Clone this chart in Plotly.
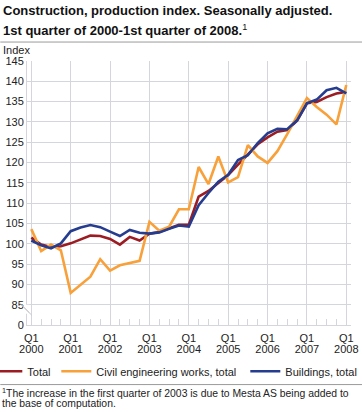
import plotly.graph_objects as go

quarters = list(range(33))
tick_vals = [0, 4, 8, 12, 16, 20, 24, 28, 32]
tick_q = ["Q1"] * 9
tick_years = ["2000", "2001", "2002", "2003", "2004", "2005", "2006", "2007", "2008"]
y_tick_vals = [80, 85, 90, 95, 100, 105, 110, 115, 120, 125, 130, 135, 140, 145]
y_tick_text = ["0", "85", "90", "95", "100", "105", "110", "115", "120", "125", "130", "135", "140", "145"]

total = [101.5, 99.8, 99.2, 99.4, 100.1, 101.1, 102.0, 101.9, 101.2, 99.8, 101.7, 100.8,
         102.5, 102.9, 103.8, 104.7, 104.7, 111.6, 113.0, 115.0, 116.9, 119.5, 122.0, 124.5,
         126.2, 127.6, 128.0, 130.3, 134.6, 134.9, 136.1, 137.0, 137.4]
civil = [103.6, 98.2, 99.8, 98.4, 87.9, 89.9, 91.9, 96.2, 93.4, 94.7, 95.3, 95.8,
         105.4, 103.2, 104.2, 108.5, 108.5, 118.9, 114.7, 121.5, 115.1, 116.4, 124.3, 121.5,
         119.9, 122.8, 127.0, 131.6, 135.9, 133.7, 131.8, 129.4, 139.1]
buildings = [100.8, 99.6, 98.9, 100.1, 103.1, 104.0, 104.6, 104.1, 103.0, 101.9, 103.4, 102.7,
             102.5, 102.8, 103.7, 104.5, 104.2, 109.5, 112.5, 115.3, 117.0, 120.6, 121.8, 124.8,
             127.2, 128.3, 128.2, 130.4, 134.6, 135.5, 137.8, 138.4, 137.0]

FONT = "Liberation Sans, Arial, sans-serif"
GRID = "#d5d6dc"
TXT = "#222222"

W, H = 362, 412
ML, MR, MT, MB = 26.7, 11.3, 60.7, 86.7
PW, PH = W - ML - MR, H - MT - MB


def px_x(x):
    return (x - ML) / PW


def px_y(y):
    return (H - MB - y) / PH


fig = go.Figure()
fig.add_trace(go.Scatter(x=quarters, y=total, name="Total", mode="lines", legend="legend",
                         line=dict(color="#9b1c22", width=2.6)))
fig.add_trace(go.Scatter(x=quarters, y=civil, name="Civil engineering works, total", mode="lines",
                         legend="legend2", line=dict(color="#f8a03a", width=2.6)))
fig.add_trace(go.Scatter(x=quarters, y=buildings, name="Buildings, total", mode="lines",
                         legend="legend3", xaxis="x2", line=dict(color="#263d8f", width=2.6)))

shapes = [
    dict(type="line", xref="paper", yref="paper", x0=px_x(0), x1=px_x(W), y0=px_y(41.7), y1=px_y(41.7),
         line=dict(color="#9a9a9a", width=1)),
    dict(type="line", xref="paper", yref="paper", x0=px_x(0), x1=px_x(W), y0=px_y(385), y1=px_y(385),
         line=dict(color="#9a9a9a", width=1)),
    dict(type="rect", xref="paper", yref="paper", x0=px_x(24), x1=px_x(29), y0=px_y(314), y1=px_y(305),
         fillcolor="white", line=dict(width=0), layer="above"),
    dict(type="line", xref="paper", yref="paper", x0=px_x(19), x1=px_x(29), y0=px_y(303), y1=px_y(313),
         line=dict(color="#c8c8cc", width=1), layer="above"),
    dict(type="line", xref="paper", yref="paper", x0=px_x(21.5), x1=px_x(31.5), y0=px_y(305.5), y1=px_y(315.5),
         line=dict(color="#c8c8cc", width=1), layer="above"),
]

annotations = [
    dict(text="<b>Construction, production index. Seasonally adjusted.</b>", xref="paper", yref="paper",
         x=px_x(1), y=px_y(10.5), xanchor="left", yanchor="middle", showarrow=False,
         font=dict(family=FONT, size=13, color="#111")),
    dict(text="<b>1st quarter of 2000-1st quarter of 2008.</b><sup>1</sup>", xref="paper", yref="paper",
         x=px_x(1), y=px_y(29.5), xanchor="left", yanchor="middle", showarrow=False,
         font=dict(family=FONT, size=13, color="#111")),
    dict(text="Index", xref="paper", yref="paper", x=px_x(1), y=px_y(49.5), xanchor="left", yanchor="middle",
         showarrow=False, font=dict(family=FONT, size=11, color=TXT)),
    dict(text="<sup>1</sup>The increase in the first quarter of 2003 is due to Mesta AS being added to",
         xref="paper", yref="paper", x=px_x(0), y=px_y(392.5), xanchor="left", yanchor="middle",
         showarrow=False, font=dict(family=FONT, size=10.4, color=TXT)),
    dict(text="the base of computation.",
         xref="paper", yref="paper", x=px_x(0), y=px_y(403.5), xanchor="left", yanchor="middle",
         showarrow=False, font=dict(family=FONT, size=10.4, color=TXT)),
]

legend_common = dict(orientation="h", xanchor="left", yanchor="middle", y=px_y(371.7),
                     font=dict(family=FONT, size=11, color=TXT), bgcolor="rgba(0,0,0,0)",
                     borderwidth=0, itemwidth=30)

fig.update_layout(
    width=W, height=H,
    margin=dict(l=ML, r=MR, t=MT, b=MB, autoexpand=False),
    paper_bgcolor="white", plot_bgcolor="white",
    font=dict(family=FONT, size=11, color=TXT),
    showlegend=True,
    legend=dict(x=px_x(-13), **legend_common),
    legend2=dict(x=px_x(56), **legend_common),
    legend3=dict(x=px_x(245), **legend_common),
    xaxis=dict(range=[-0.44, 32.48], tickvals=tick_vals, ticktext=tick_q, showgrid=True,
               gridcolor=GRID, gridwidth=1, showline=True, linecolor=GRID, linewidth=1,
               ticks="", zeroline=False, ticklabelstandoff=3,
               tickfont=dict(family=FONT, size=11, color=TXT),
               minor=dict(tickvals=[q for q in quarters if q % 4 != 0], ticks="inside", ticklen=6,
                          tickcolor=GRID, tickwidth=1, showgrid=False)),
    xaxis2=dict(range=[-0.44, 32.48], overlaying="x", anchor="y", side="bottom", tickvals=tick_vals,
                ticktext=tick_years, showgrid=False, showline=False, ticks="", zeroline=False,
                ticklabelstandoff=16, tickfont=dict(family=FONT, size=11, color=TXT)),
    yaxis=dict(range=[80, 145], tickvals=y_tick_vals, ticktext=y_tick_text, showgrid=True,
               gridcolor=GRID, gridwidth=1, showline=True, linecolor=GRID, linewidth=1,
               ticks="", zeroline=False, tickfont=dict(family=FONT, size=11, color=TXT)),
    shapes=shapes,
    annotations=annotations,
)

fig.write_html("out.html", config={"displayModeBar": False},
               post_script="document.documentElement.style.overflow='hidden';"
                           "document.body.style.margin='0px';document.body.style.overflow='hidden';")
